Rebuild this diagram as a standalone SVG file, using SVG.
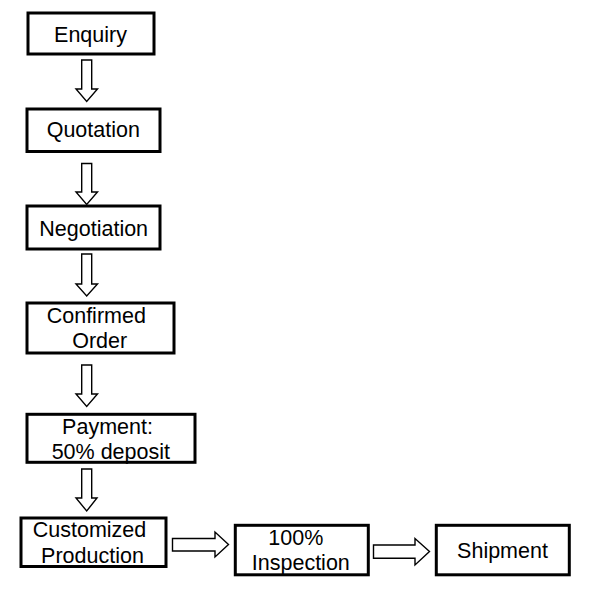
<svg xmlns="http://www.w3.org/2000/svg" width="608" height="610" viewBox="0 0 608 610">
<style>
.box{fill:#fff;stroke:#000;stroke-width:3}
.t{font-family:"Liberation Sans",Arial,sans-serif;font-size:21.5px;fill:#000;text-anchor:middle}
.arr{fill:#fff;stroke:#000;stroke-width:1.4;stroke-linejoin:miter}
</style>
<rect width="608" height="610" fill="#fff"/>
<g id="connectors">
<polygon class="arr" points="81.7,60 91.7,60 91.7,89 97.5,89 86.7,101.5 76,89 81.7,89"/>
<polygon class="arr" points="81.7,163.5 91.7,163.5 91.7,192 97.5,192 86.7,204.5 76,192 81.7,192"/>
<polygon class="arr" points="81.7,254 91.7,254 91.7,284 97.5,284 86.7,296 76,284 81.7,284"/>
<polygon class="arr" points="81.7,365 91.7,365 91.7,394 97.5,394 86.7,406.5 76,394 81.7,394"/>
<polygon class="arr" points="81.7,469 91.7,469 91.7,498 97,498 86.7,511 76,498 81.7,498"/>
<polygon class="arr" points="172.5,538.5 215,538.5 215,532 228.5,544.5 215,557 215,551 172.5,551"/>
<polygon class="arr" points="373.5,545 415,545 415,538.5 429.5,551.5 415,565 415,558.3 373.5,558.3"/>
</g>
<g id="enquiry"><rect class="box" x="28" y="13" width="126" height="41"/><text class="t" x="90.5" y="42.3">Enquiry</text></g>
<g id="quotation"><rect class="box" x="27" y="109" width="133" height="42.5"/><text class="t" x="93.3" y="137.3">Quotation</text></g>
<g id="negotiation"><rect class="box" x="27" y="206" width="133" height="43"/><text class="t" x="93.7" y="235.7">Negotiation</text></g>
<g id="confirmed-order"><rect class="box" x="27" y="303" width="147" height="50"/><text class="t" x="96.3" y="322.7">Confirmed</text><text class="t" x="99.7" y="348.3">Order</text></g>
<g id="payment"><rect class="box" x="27" y="414.3" width="168" height="48"/><text class="t" x="107.5" y="434.3">Payment:</text><text class="t" x="110.8" y="459.3">50% deposit</text></g>
<g id="production"><rect class="box" x="21" y="518" width="145" height="48.5"/><text class="t" x="89.5" y="537.3">Customized</text><text class="t" x="92.5" y="562.7">Production</text></g>
<g id="inspection"><rect class="box" x="235.3" y="525.3" width="133" height="49.5"/><text class="t" x="295.8" y="545">100%</text><text class="t" x="300.8" y="570">Inspection</text></g>
<g id="shipment"><rect class="box" x="436.3" y="525.3" width="133" height="49.5"/><text class="t" x="502.5" y="557.7">Shipment</text></g>
</svg>
